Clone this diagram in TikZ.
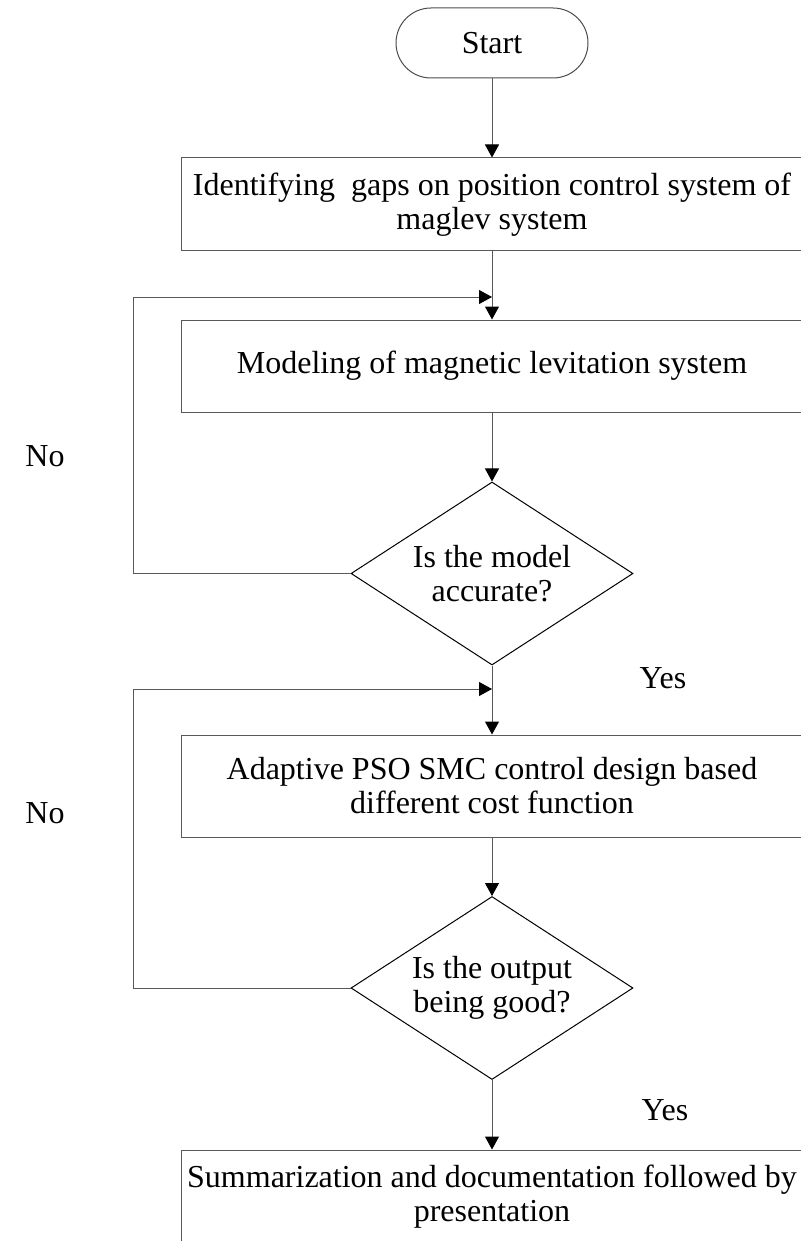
\documentclass[tikz,border=0pt]{standalone}
\usepackage{fontspec}
\setmainfont{Liberation Serif}
\usetikzlibrary{arrows.meta, positioning, shapes.geometric}

\begin{document}
\begin{tikzpicture}[x=0.5pt, y=-0.5pt, line width=0.5pt,
    font=\fontsize{16}{17}\selectfont,
    terminal/.style={rectangle, draw=black!70, rounded corners=17.5pt, minimum width=96pt, minimum height=35pt},
    box/.style={rectangle, draw=black!65, minimum width=311pt, inner sep=0pt, align=center},
    decision/.style={diamond, draw, aspect=1.54, minimum width=141pt, minimum height=91.5pt, inner sep=0pt, align=center},
    arrow/.style={draw=black!65, -{Triangle[length=6.5pt, width=7pt, color=black]}}]
    \useasboundingbox (0,0) rectangle (801,1241);

    \node[terminal] (start) at (492, 43) {Start};
    \node[box, minimum height=46.5pt] (ident) at (492, 204.5) {Identifying\ \ gaps on position control system of\\maglev system};
    \node[box, minimum height=46pt] (model) at (492, 366) {Modeling of magnetic levitation system};
    \node[decision] (accurate) at (492, 573.5) {Is the model\\accurate?};
    \node[box, minimum height=51pt] (design) at (492, 786) {Adaptive PSO SMC control design based\\different cost function};
    \node[decision] (good) at (492, 988) {Is the output\\being good?};
    \node[box, minimum height=47pt] (summary) at (492, 1197) {Summarization and documentation followed by\\presentation};

    \coordinate (join1) at (492, 297);
    \coordinate (corner1) at (133, 297);
    \coordinate (join2) at (492, 689);
    \coordinate (corner2) at (133, 689);

    \draw[arrow] (start) -- (ident);
    \draw[arrow] (ident) -- (model);
    \draw[arrow] (model) -- (accurate);
    \draw[arrow] (accurate) -- (design);
    \draw[arrow] (design) -- (good);
    \draw[arrow] (good) -- (summary);

    % loops back on "No"
    \draw[arrow] (accurate.west) -| (corner1) -- (join1);
    \draw[arrow] (good.west) -| (corner2) -- (join2);

    \node (no1) at (45, 456) {No};
    \node (yes1) at (663, 678) {Yes};
    \node (no2) at (45, 813) {No};
    \node (yes2) at (665, 1110) {Yes};
\end{tikzpicture}
\end{document}
